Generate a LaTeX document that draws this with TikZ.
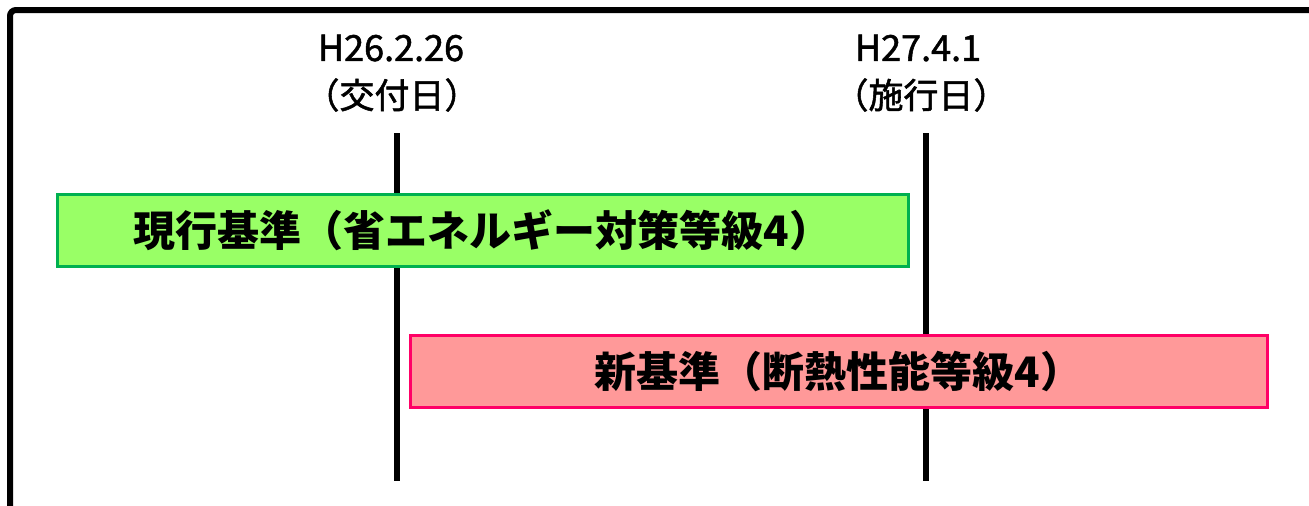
\documentclass[tikz,border=0pt]{standalone}
\usepackage{fontspec}
\setmainfont{Noto Sans CJK JP}
\newfontfamily\lblfont[FakeBold=1.5]{Noto Sans CJK JP}
\definecolor{kgreen}{RGB}{153,255,102}
\definecolor{kgreenline}{RGB}{0,176,80}
\definecolor{kpink}{RGB}{255,153,153}
\definecolor{kpinkline}{RGB}{255,0,102}
\tikzset{
  datelbl/.style={font=\lblfont\fontsize{18}{20}\selectfont, inner sep=0pt},
  notelbl/.style={font=\lblfont\fontsize{17.5}{19}\selectfont, inner sep=0pt},
  stdbox/.style={draw, line width=1.5pt, minimum height=36pt, inner sep=0pt,
    font=\fontsize{21}{23}\selectfont\bfseries},
}
\begin{document}
\begin{tikzpicture}[x=0.5pt,y=-0.5pt]
\useasboundingbox (0,0) rectangle (1309,505);
\clip (0,0) rectangle (1309,505);
\fill[white] (0,0) rectangle (1309,505);
\draw[line width=3pt, rounded corners=3pt] (10,10) rectangle (1330,530);

\node[datelbl] (kofu) at (391,48) {H26.2.26};
\node[notelbl] (kofunote) at (392,95) {（交付日）};
\node[datelbl] (seko) at (918,48) {H27.4.1};
\node[notelbl] (sekonote) at (921,95) {（施行日）};

\coordinate (kofutop) at (397,133);
\coordinate (kofubot) at (397,481);
\coordinate (sekotop) at (926,133);
\coordinate (sekobot) at (926,481);
\draw[line width=3pt] (kofutop) -- (kofubot);
\draw[line width=3pt] (sekotop) -- (sekobot);

\node[stdbox, draw=kgreenline, fill=kgreen, minimum width=425.5pt] (genko) at (482.5,230)
  {現行基準（省エネルギー対策等級4）};
\node[stdbox, draw=kpinkline, fill=kpink, minimum width=428.5pt] (shin) at (838.5,371)
  {新基準（断熱性能等級4）};
\end{tikzpicture}
\end{document}
